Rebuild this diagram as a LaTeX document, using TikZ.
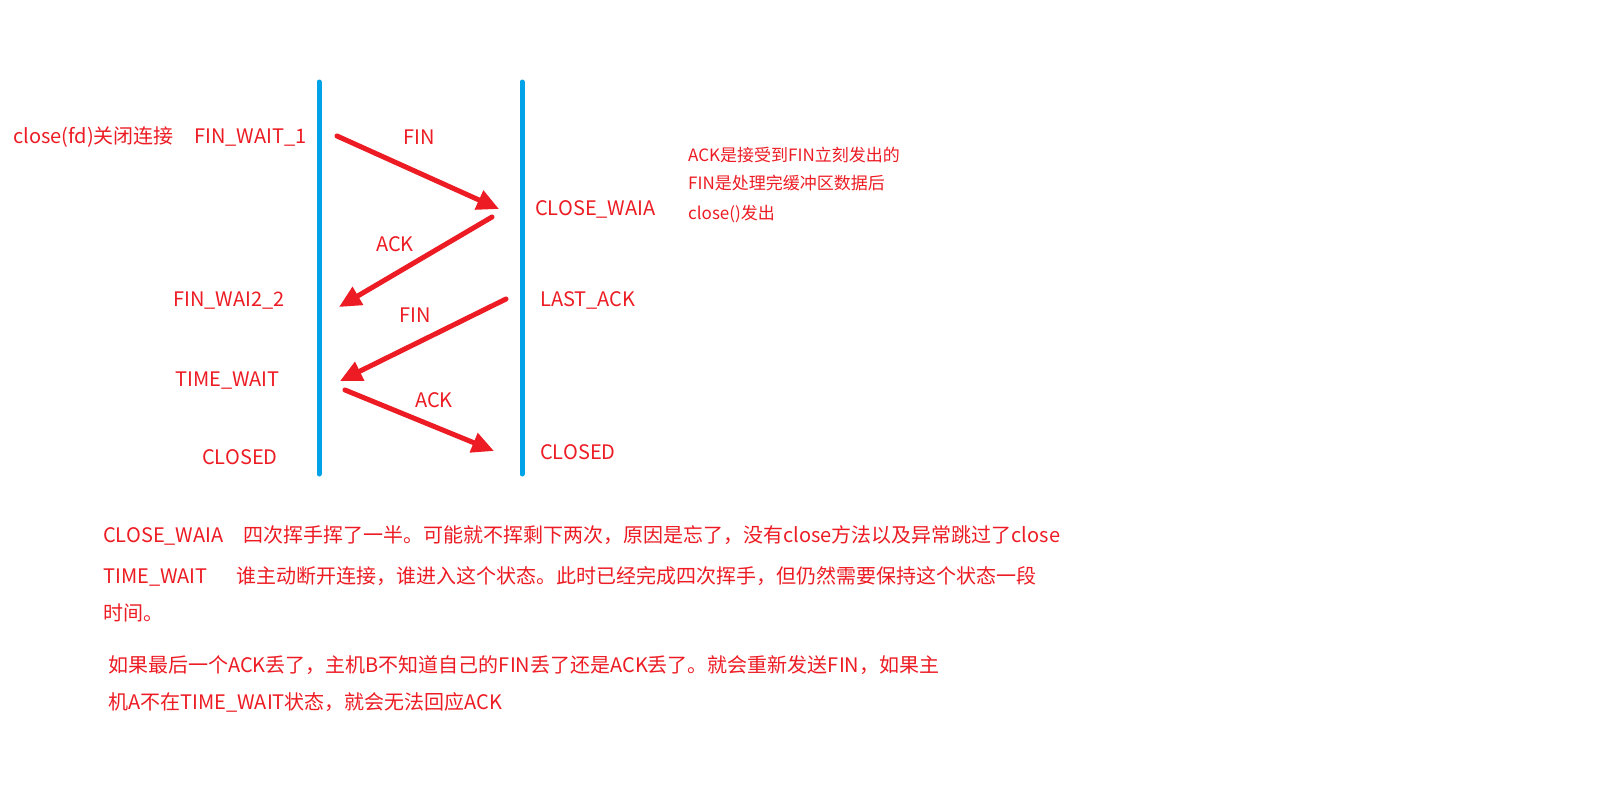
\documentclass[tikz,border=0pt]{standalone}
\usepackage{fontspec}
\setmainfont{Noto Sans CJK SC}
\usetikzlibrary{arrows.meta}
\definecolor{paintred}{RGB}{237,28,36}
\definecolor{paintblue}{RGB}{0,162,232}
\begin{document}
\begin{tikzpicture}[x=1pt,y=-1pt,line join=round,line cap=round,
	>={Triangle[length=22pt,width=20pt]},
	lab/.style={text=paintred,inner sep=0pt,anchor=base west,font=\fontsize{20}{24}\selectfont},
	msg/.style={lab,anchor=base},
	note/.style={lab,font=\fontsize{17}{20}\selectfont},
	seg/.style={draw=paintred,line width=5pt,->}]
	\useasboundingbox[fill=white] (0,0) rectangle (1600,800);
	% two hosts
	\draw[paintblue,line width=5pt] (319,82) coordinate (a top)--(319,474) coordinate (a bot);
	\draw[paintblue,line width=5pt] (522,82) coordinate (b top)--(522,474) coordinate (b bot);
	% states of host A
	\node[lab] (close) at (13,143.5) {close(fd)关闭连接};
	\node[lab] (fw1) at (194,143.5) {FIN\_WAIT\_1};
	\node[lab] (fw2) at (173,306) {FIN\_WAI2\_2};
	\node[lab] (tw) at (175,386) {TIME\_WAIT};
	\node[lab] (aclosed) at (202,464) {CLOSED};
	% states of host B
	\node[lab] (cw) at (535,215) {CLOSE\_WAIA};
	\node[lab] (la) at (540,306) {LAST\_ACK};
	\node[lab] (bclosed) at (540,459) {CLOSED};
	% segments
	\coordinate (s1) at (337,136); \coordinate (e1) at (499,209);
	\coordinate (s2) at (492,217); \coordinate (e2) at (339,307);
	\coordinate (s3) at (506,299); \coordinate (e3) at (340,381);
	\coordinate (s4) at (345,390); \coordinate (e4) at (494,451);
	\draw[seg] (s1)--(e1);
	\draw[seg] (s2)--(e2);
	\draw[seg] (s3)--(e3);
	\draw[seg] (s4)--(e4);
	\node[msg] (fin1) at (419,144) {FIN};
	\node[msg] (ack1) at (395,251) {ACK};
	\node[msg] (fin2) at (415,322) {FIN};
	\node[msg] (ack2) at (434,407) {ACK};
	% note beside host B
	\node[note] (n1) at (688,161) {ACK是接受到FIN立刻发出的};
	\node[note] (n2) at (688,189) {FIN是处理完缓冲区数据后};
	\node[note] (n3) at (688,219) {close()发出};
	% remarks below
	\node[lab] (k1) at (103,542) {CLOSE\_WAIA};
	\node[lab] (t1) at (243,542) {四次挥手挥了一半。可能就不挥剩下两次，原因是忘了，没有close方法以及异常跳过了close};
	\node[lab] (k2) at (103,583) {TIME\_WAIT};
	\node[lab] (t2) at (236,583) {谁主动断开连接，谁进入这个状态。此时已经完成四次挥手，但仍然需要保持这个状态一段};
	\node[lab] (t3) at (103,620) {时间。};
	\node[lab] (t4) at (108,672) {如果最后一个ACK丢了，主机B不知道自己的FIN丢了还是ACK丢了。就会重新发送FIN，如果主};
	\node[lab] (t5) at (108,709) {机A不在TIME\_WAIT状态，就会无法回应ACK};
\end{tikzpicture}
\end{document}
